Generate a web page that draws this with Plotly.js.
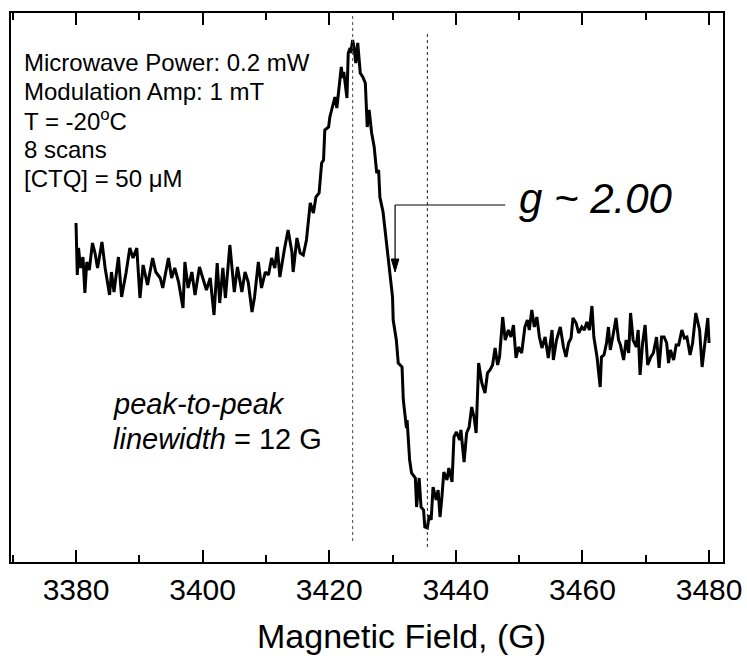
<!DOCTYPE html>
<html>
<head>
<meta charset="utf-8">
<script src="https://cdn.plot.ly/plotly-3.0.1.min.js"></script>
<style>html,body{margin:0;padding:0;background:#fff;}#chart{width:747px;height:660px;}</style>
</head>
<body>
<div id="chart"></div>
<script>
// Magnetic field (G)
const field = [3380.0,3380.2,3380.4,3380.7,3381.1,3381.4,3381.7,3382.1,3382.6,3383.0,3383.4,3384.1,3384.6,3385.3,3385.6,3386.0,3386.7,3387.2,3387.9,3388.5,3389.0,3389.6,3390.1,3390.6,3391.3,3392.1,3392.6,3393.3,3393.7,3394.6,3395.1,3395.6,3396.2,3396.9,3397.2,3397.7,3398.3,3398.8,3399.5,3400.1,3400.6,3401.2,3401.5,3401.8,3402.3,3402.7,3403.2,3403.6,3404.3,3405.0,3405.5,3406.2,3406.7,3407.2,3407.8,3408.2,3408.8,3409.3,3409.9,3410.4,3410.9,3411.4,3411.8,3412.2,3412.9,3413.5,3414.1,3414.3,3414.9,3415.4,3415.9,3416.4,3417.0,3417.5,3417.9,3418.4,3418.8,3419.1,3419.3,3419.9,3420.1,3420.6,3420.9,3421.2,3421.6,3421.9,3422.1,3422.3,3422.8,3423.0,3423.3,3423.4,3423.7,3423.9,3424.2,3424.5,3424.9,3425.3,3425.7,3426.0,3426.3,3426.7,3427.1,3427.5,3427.8,3428.0,3428.5,3428.8,3429.1,3429.6,3430.0,3430.1,3430.6,3430.9,3431.5,3431.7,3432.0,3432.2,3432.3,3432.7,3433.0,3433.6,3433.8,3434.2,3434.5,3434.9,3435.1,3435.5,3435.8,3436.1,3436.4,3436.9,3437.2,3437.5,3437.8,3438.1,3438.6,3438.9,3439.4,3439.7,3440.1,3440.6,3440.8,3441.3,3441.7,3442.1,3442.5,3442.9,3443.2,3443.6,3444.1,3444.6,3445.0,3445.4,3445.8,3446.2,3446.6,3446.9,3447.4,3447.8,3448.3,3448.7,3449.1,3449.5,3449.9,3450.4,3450.9,3451.3,3451.6,3452.0,3452.4,3452.8,3453.2,3453.6,3454.1,3454.6,3455.2,3455.4,3455.9,3456.5,3457.0,3457.4,3457.8,3458.2,3458.5,3459.0,3459.4,3459.9,3460.3,3460.7,3461.1,3461.5,3461.8,3462.3,3462.8,3463.0,3463.4,3463.8,3464.1,3464.4,3464.9,3465.3,3465.7,3466.0,3466.5,3466.9,3467.3,3467.6,3468.0,3468.5,3468.8,3469.1,3469.5,3469.9,3470.3,3470.8,3471.2,3471.7,3472.1,3472.5,3472.9,3473.3,3473.6,3473.9,3474.4,3474.8,3475.2,3475.7,3476.1,3476.5,3477.0,3477.4,3477.9,3478.5,3478.9,3479.4,3479.8,3480.0];
// EPR signal (arb. units)
const signal = [7.7,2.5,5.2,3.2,4.3,0.7,3.8,3.0,5.7,4.7,3.2,5.8,3.2,0.5,2.8,0.8,4.3,0.3,2.7,5.2,4.2,5.2,0.2,3.5,1.5,4.2,2.8,2.2,1.2,4.2,2.2,3.2,1.8,-0.8,3.8,1.2,2.8,0.5,3.3,2.0,1.0,2.2,0.2,-1.5,3.7,-0.3,3.2,0.2,5.5,0.8,3.3,0.8,2.8,1.8,-1.2,0.3,3.8,1.2,2.8,2.5,4.2,3.2,5.3,2.3,5.0,7.0,4.8,2.8,6.2,4.7,4.5,6.0,9.7,8.7,10.3,10.7,13.7,14.0,17.0,17.3,18.3,19.7,20.3,19.2,21.7,23.3,22.2,22.8,20.2,24.7,25.2,24.7,26.0,25.3,23.7,25.7,22.7,22.3,21.7,17.3,19.0,16.7,15.3,12.7,13.0,10.3,8.8,7.0,5.0,2.7,0.3,-2.0,-4.0,-6.3,-6.7,-10.0,-12.0,-12.8,-12.0,-16.0,-17.3,-17.8,-20.7,-17.8,-20.7,-21.0,-22.7,-22.8,-21.5,-22.0,-18.7,-20.0,-19.0,-21.7,-19.7,-17.2,-18.0,-16.8,-18.2,-13.7,-13.2,-14.0,-13.0,-16.2,-13.3,-12.7,-10.7,-11.8,-13.3,-6.3,-8.3,-9.3,-7.3,-7.0,-6.5,-4.8,-6.5,-5.7,-1.7,-4.0,-3.0,-3.7,-2.5,-5.8,-4.7,-5.3,-2.7,-2.0,-3.0,-1.0,-2.7,-1.7,-3.7,-4.8,-3.7,-5.8,-3.0,-6.0,-4.0,-2.7,-4.7,-5.7,-4.3,-3.8,-1.8,-2.3,-3.3,-2.7,-3.0,-2.2,-3.0,-0.6,-3.7,-5.7,-8.7,-5.7,-5.5,-4.3,-2.7,-5.0,-3.3,-1.8,-4.0,-4.5,-6.0,-4.0,-5.3,-1.3,-4.0,-4.7,-3.0,-7.5,-4.3,-2.5,-6.5,-5.7,-5.3,-3.7,-6.8,-3.7,-3.7,-4.3,-6.3,-5.0,-6.0,-4.5,-4.5,-3.0,-3.8,-3.7,-5.5,-4.3,-1.3,-3.0,-6.7,-4.0,-1.8,-4.3];
const tickVals = [3380,3400,3420,3440,3460,3480];
const tickText = ["3380","3400","3420","3440","3460","3480"];
const infoLines = ["Microwave Power: 0.2 mW","Modulation Amp: 1 mT","T = -20<sup>o</sup>C","8 scans","[CTQ] = 50 \u03bcM"];
const gLabel = "<i>g ~ 2.00</i>";
const widthLines = ["<i>peak-to-peak</i>","<i>linewidth</i> = 12 G"];
const xTitle = "Magnetic Field, (G)";
const gField = 3430.4;   // field the g ~ 2.00 arrow points to

// peak and trough positions from the data
let iMax = 0, iMin = 0;
signal.forEach((v,i)=>{ if(v>signal[iMax]) iMax=i; if(v<signal[iMin]) iMin=i; });
const bPeak = field[iMax], bTrough = field[iMin];

const FONT = "Liberation Sans, Arial, sans-serif";
const xr = [3369.73, 3482.2];
const yr = [-26.2, 28.7];

const annotations = [];
const infoY = [23.8, 20.9, 18.0, 15.1, 12.2];
infoLines.forEach((t,i)=>annotations.push({x:3371.4, y:infoY[i], xref:'x', yref:'y', text:t, showarrow:false, xanchor:'left', yanchor:'middle', font:{family:FONT, size:24, color:'#000'}}));
const wY = [-10.4, -13.9];
widthLines.forEach((t,i)=>annotations.push({x:3385.6, y:wY[i], xref:'x', yref:'y', text:t, showarrow:false, xanchor:'left', yanchor:'middle', font:{family:FONT, size:29, color:'#000'}}));
annotations.push({x:3449.6, y:10.2, xref:'x', yref:'y', text:gLabel, showarrow:false, xanchor:'left', yanchor:'middle', font:{family:FONT, size:42, color:'#000'}});
annotations.push({x:0.548, y:-0.135, xref:'paper', yref:'paper', text:xTitle, showarrow:false, xanchor:'center', yanchor:'middle', font:{family:FONT, size:34, color:'#000'}});

const headY = 4.1, tipY = 2.8, halfW = 0.6;
const shapes = [
  {type:'line', xref:'x', yref:'y', x0:bPeak, x1:bPeak, y0:-24.1, y1:28.5, line:{color:'#444', width:1, dash:'dot'}},
  {type:'line', xref:'x', yref:'y', x0:bTrough, x1:bTrough, y0:-24.7, y1:26.7, line:{color:'#222', width:1, dash:'dot'}},
  {type:'line', xref:'x', yref:'y', x0:gField, x1:3447.8, y0:9.5, y1:9.5, line:{color:'#000', width:1.2}},
  {type:'line', xref:'x', yref:'y', x0:gField, x1:gField, y0:9.5, y1:headY, line:{color:'#000', width:1.2}},
  {type:'path', xref:'x', yref:'y', path:`M ${gField-halfW},${headY} L ${gField+halfW},${headY} L ${gField},${tipY} Z`, fillcolor:'#000', line:{color:'#000', width:1}}
];

const trace = {x:field, y:signal, type:'scatter', mode:'lines', line:{color:'#000', width:3}, hoverinfo:'skip'};

const layout = {
  width:747, height:660,
  margin:{l:11, r:24, t:13, b:98},
  paper_bgcolor:'#fff', plot_bgcolor:'#fff',
  showlegend:false,
  font:{family:FONT, color:'#000'},
  xaxis:{range:xr, tickvals:tickVals, ticktext:tickText, ticks:'inside', ticklen:12, tickwidth:2, tickcolor:'#000',
         showline:true, linecolor:'#000', linewidth:2, mirror:'ticks', showgrid:false, zeroline:false,
         tickfont:{family:FONT, size:30, color:'#000'},
         minor:{dtick:10, tick0:3370, ticks:'inside', ticklen:7, tickwidth:2, tickcolor:'#000', showgrid:false}},
  yaxis:{range:yr, showticklabels:false, ticks:'', showline:true, linecolor:'#000', linewidth:2, mirror:true, showgrid:false, zeroline:false},
  annotations:annotations,
  shapes:shapes
};
Plotly.newPlot('chart', [trace], layout, {staticPlot:true, displayModeBar:false});
</script>
</body>
</html>
